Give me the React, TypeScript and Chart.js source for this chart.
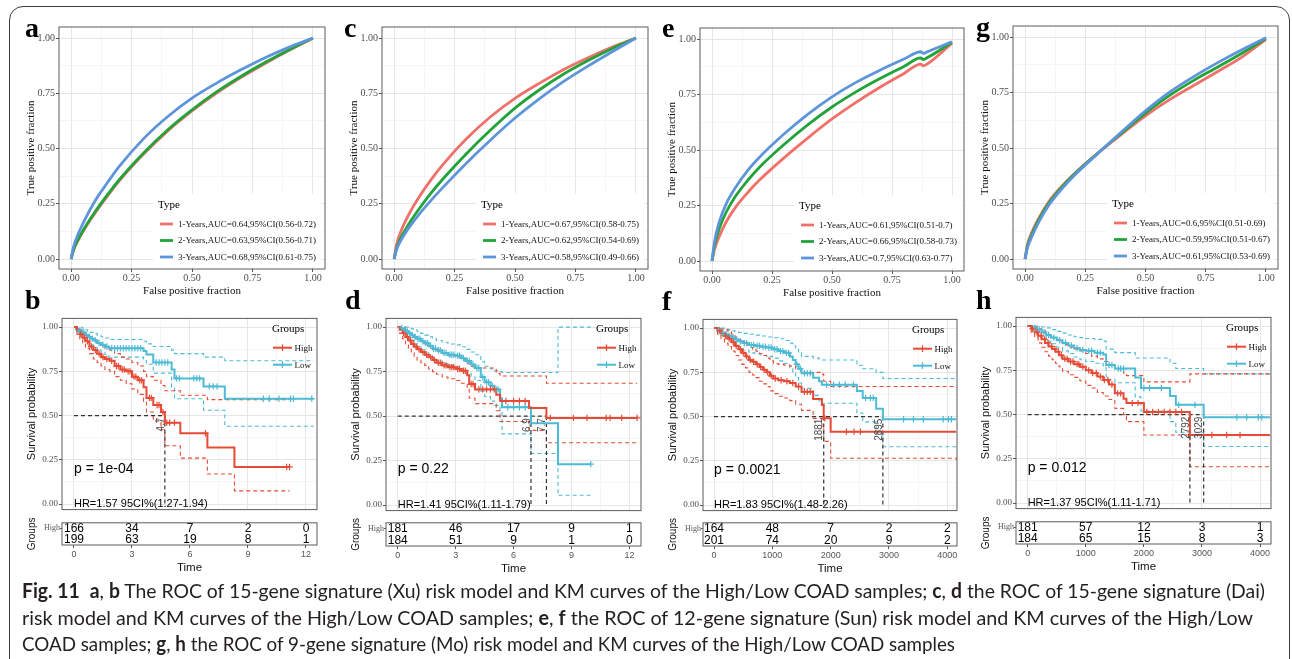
import React, { useEffect, useLayoutEffect, useRef } from 'react';
import { Chart, registerables } from 'chart.js';

Chart.register(...registerables);

const SERIF = '"Liberation Serif", "DejaVu Serif", serif';
const SANS = '"Liberation Sans", Arial, sans-serif';

// ---------------- ROC curves ----------------
const rocMajor = [0, 0.25, 0.5, 0.75, 1];
const rocMinor = [0.125, 0.375, 0.625, 0.875];
const rocYears = ['1-Years', '2-Years', '3-Years'];
const rocColors = ['#F0706A', '#22A33A', '#5E95DA'];

const fprStd = [0, 0.01, 0.03, 0.06, 0.1, 0.15, 0.2, 0.3, 0.4, 0.5, 0.6, 0.7, 0.8, 0.9, 1];

const tprA1 = [0, 0.04, 0.087, 0.144, 0.21, 0.285, 0.355, 0.475, 0.58, 0.67, 0.75, 0.82, 0.884, 0.944, 1];
const tprA2 = [0, 0.042, 0.09, 0.148, 0.215, 0.29, 0.36, 0.48, 0.585, 0.675, 0.755, 0.825, 0.888, 0.946, 1];
const tprA3 = [0, 0.055, 0.115, 0.185, 0.265, 0.345, 0.42, 0.545, 0.645, 0.728, 0.795, 0.855, 0.91, 0.958, 1];
const aucA = ['0.64', '0.63', '0.68'];
const ciA = ['0.56-0.72', '0.56-0.71', '0.61-0.75'];

const tprC1 = [0, 0.065, 0.13, 0.2, 0.275, 0.355, 0.425, 0.545, 0.645, 0.727, 0.795, 0.857, 0.91, 0.958, 1];
const tprC2 = [0, 0.048, 0.1, 0.157, 0.222, 0.295, 0.36, 0.478, 0.585, 0.683, 0.765, 0.836, 0.897, 0.952, 1];
const tprC3 = [0, 0.042, 0.088, 0.14, 0.198, 0.262, 0.322, 0.435, 0.54, 0.638, 0.725, 0.803, 0.872, 0.937, 1];
const aucC = ['0.67', '0.62', '0.58'];
const ciC = ['0.58-0.75', '0.54-0.69', '0.49-0.66'];

const fprE = [0, 0.01, 0.03, 0.06, 0.1, 0.15, 0.2, 0.3, 0.4, 0.5, 0.6, 0.7, 0.8, 0.87, 0.88, 0.9, 1];
const tprE1 = [0, 0.05, 0.11, 0.178, 0.245, 0.31, 0.367, 0.465, 0.555, 0.64, 0.715, 0.783, 0.845, 0.887, 0.88, 0.89, 0.982];
const tprE2 = [0, 0.068, 0.145, 0.222, 0.295, 0.365, 0.425, 0.525, 0.615, 0.694, 0.762, 0.822, 0.877, 0.915, 0.908, 0.918, 0.985];
const tprE3 = [0, 0.085, 0.175, 0.26, 0.335, 0.41, 0.47, 0.572, 0.662, 0.74, 0.805, 0.86, 0.91, 0.943, 0.936, 0.944, 0.988];
const aucE = ['0.61', '0.66', '0.7'];
const ciE = ['0.51-0.7', '0.58-0.73', '0.63-0.77'];

const tprG1 = [0, 0.065, 0.125, 0.19, 0.26, 0.325, 0.38, 0.475, 0.562, 0.645, 0.718, 0.782, 0.845, 0.91, 0.99];
const tprG2 = [0, 0.058, 0.115, 0.183, 0.253, 0.32, 0.377, 0.475, 0.567, 0.657, 0.737, 0.805, 0.865, 0.927, 0.993];
const tprG3 = [0, 0.05, 0.105, 0.173, 0.245, 0.313, 0.372, 0.473, 0.572, 0.668, 0.752, 0.822, 0.885, 0.943, 0.997];
const aucG = ['0.6', '0.59', '0.61'];
const ciG = ['0.51-0.69', '0.51-0.67', '0.53-0.69'];

// ---------------- Kaplan-Meier curves ----------------
const kmRed = '#E64B35';
const kmBlue = '#4DBBD5';
const survMajor = [0, 0.25, 0.5, 0.75, 1];
const survMinor = [0.125, 0.375, 0.625, 0.875];
const yearMajor = [0, 3, 6, 9, 12];
const yearMinor = [1.5, 4.5, 7.5, 10.5];
const dayMajor = [0, 1000, 2000, 3000, 4000];
const dayMinor = [500, 1500, 2500, 3500];

// b
const timeBH = [0, 0.15, 0.3, 0.45, 0.6, 0.8, 1.0, 1.2, 1.4, 1.6, 1.85, 2.1, 2.4, 2.7, 3.0, 3.3, 3.6, 3.75, 4.1, 4.5, 4.7, 5.5, 6.9, 8.3, 11.15];
const survBH = [1, 0.98, 0.96, 0.94, 0.92, 0.89, 0.87, 0.85, 0.83, 0.82, 0.81, 0.78, 0.76, 0.75, 0.72, 0.7, 0.66, 0.6, 0.56, 0.52, 0.46, 0.4, 0.32, 0.21, 0.21];
const upBH = [1, 0.995, 0.985, 0.97, 0.955, 0.935, 0.92, 0.905, 0.89, 0.88, 0.87, 0.85, 0.83, 0.82, 0.8, 0.78, 0.75, 0.72, 0.7, 0.67, 0.64, 0.615, 0.59, 0.59, 0.59];
const loBH = [1, 0.96, 0.93, 0.91, 0.88, 0.85, 0.82, 0.8, 0.78, 0.76, 0.75, 0.72, 0.7, 0.68, 0.65, 0.62, 0.58, 0.52, 0.47, 0.42, 0.33, 0.26, 0.17, 0.075, 0.075];
const censorBH = [0.35, 0.55, 0.7, 0.9, 1.1, 1.3, 1.5, 1.7, 1.95, 2.2, 2.3, 2.5, 2.6, 2.8, 2.9, 3.1, 3.2, 3.4, 3.5, 3.9, 4.0, 4.3, 4.4, 4.6, 4.8, 4.95, 5.2, 6.8, 11.0, 11.15];
const timeBL = [0, 0.1, 0.25, 0.4, 0.55, 0.7, 0.85, 1.0, 1.2, 1.4, 1.6, 1.8, 3.6, 3.75, 4.1, 5.05, 5.2, 6.7, 7.8, 12.4];
const survBL = [1, 0.99, 0.98, 0.97, 0.955, 0.945, 0.935, 0.925, 0.91, 0.9, 0.89, 0.88, 0.865, 0.845, 0.8, 0.76, 0.71, 0.665, 0.595, 0.595];
const upBL = [1, 1, 1, 0.995, 0.985, 0.978, 0.97, 0.963, 0.953, 0.945, 0.938, 0.93, 0.92, 0.905, 0.89, 0.87, 0.85, 0.83, 0.81, 0.81];
const loBL = [1, 0.975, 0.96, 0.945, 0.925, 0.91, 0.9, 0.885, 0.87, 0.855, 0.845, 0.83, 0.81, 0.79, 0.74, 0.66, 0.595, 0.53, 0.44, 0.44];
const censorBL = [0.3, 0.5, 0.65, 0.8, 0.95, 1.1, 1.3, 1.5, 1.7, 1.95, 2.1, 2.25, 2.4, 2.55, 2.7, 2.85, 3.0, 3.15, 3.3, 3.45, 4.25, 4.4, 4.55, 4.7, 4.85, 5.3, 5.45, 6.2, 6.35, 6.5, 7.0, 7.2, 7.4, 9.8, 10.1, 10.6, 11.2, 11.35, 12.3];
const riskTimesB = [0, 3, 6, 9, 12];
const riskHighB = [166, 34, 7, 2, 0];
const riskLowB = [199, 63, 19, 8, 1];
const mediansB = [4.7];

// d
const timeDH = [0, 0.1, 0.25, 0.4, 0.55, 0.7, 0.85, 1.0, 1.2, 1.4, 1.6, 1.8, 2.0, 2.3, 2.6, 3.0, 3.3, 3.6, 3.7, 4.0, 5.1, 5.3, 6.8, 7.7, 12.4];
const survDH = [1, 0.985, 0.965, 0.945, 0.925, 0.905, 0.89, 0.875, 0.86, 0.845, 0.83, 0.815, 0.8, 0.785, 0.775, 0.765, 0.755, 0.73, 0.68, 0.65, 0.62, 0.585, 0.545, 0.49, 0.49];
const upDH = [1, 1, 0.995, 0.985, 0.97, 0.955, 0.945, 0.935, 0.92, 0.905, 0.89, 0.875, 0.865, 0.85, 0.84, 0.83, 0.82, 0.8, 0.78, 0.77, 0.74, 0.725, 0.725, 0.685, 0.685];
const loDH = [1, 0.965, 0.935, 0.905, 0.88, 0.855, 0.835, 0.815, 0.8, 0.785, 0.765, 0.75, 0.735, 0.72, 0.71, 0.7, 0.685, 0.66, 0.6, 0.57, 0.53, 0.47, 0.42, 0.35, 0.35];
const censorDH = [0.3, 0.5, 0.65, 0.8, 0.95, 1.1, 1.3, 1.5, 1.7, 1.9, 2.1, 2.2, 2.4, 2.5, 2.7, 2.8, 2.9, 3.1, 3.2, 3.4, 3.5, 3.8, 3.9, 4.2, 4.4, 4.6, 4.8, 5.0, 5.6, 6.0, 6.3, 6.6, 7.9, 9.1, 9.8, 10.8, 11.0, 11.6, 12.4];
const timeDL = [0, 0.1, 0.25, 0.4, 0.55, 0.7, 0.85, 1.0, 1.2, 1.4, 1.6, 1.8, 2.0, 2.3, 2.6, 3.0, 3.3, 3.5, 3.8, 4.0, 4.3, 4.5, 4.8, 5.0, 5.3, 5.4, 6.9, 8.3, 10.0];
const survDL = [1, 0.995, 0.985, 0.975, 0.965, 0.955, 0.945, 0.935, 0.92, 0.91, 0.895, 0.88, 0.87, 0.855, 0.845, 0.84, 0.825, 0.81, 0.79, 0.77, 0.72, 0.69, 0.67, 0.65, 0.6, 0.55, 0.46, 0.23, 0.23];
const upDL = [1, 1, 1, 1, 0.995, 0.99, 0.985, 0.975, 0.965, 0.955, 0.945, 0.935, 0.925, 0.915, 0.905, 0.9, 0.89, 0.875, 0.86, 0.845, 0.805, 0.78, 0.765, 0.755, 0.75, 0.745, 0.745, 1, 1];
const loDL = [1, 0.985, 0.97, 0.955, 0.94, 0.925, 0.91, 0.895, 0.875, 0.86, 0.845, 0.825, 0.81, 0.795, 0.785, 0.775, 0.755, 0.74, 0.72, 0.7, 0.64, 0.61, 0.585, 0.56, 0.52, 0.4, 0.29, 0.055, 0.055];
const censorDL = [0.2, 0.35, 0.5, 0.6, 0.75, 0.9, 1.05, 1.15, 1.3, 1.45, 1.55, 1.7, 1.85, 1.95, 2.1, 2.2, 2.4, 2.5, 2.7, 2.8, 2.9, 3.1, 3.2, 3.4, 3.6, 3.7, 3.9, 4.1, 4.2, 4.4, 4.6, 4.7, 4.9, 5.1, 5.2, 5.7, 6.0, 6.3, 6.6, 10.0];
const riskTimesD = [0, 3, 6, 9, 12];
const riskHighD = [181, 46, 17, 9, 1];
const riskLowD = [184, 51, 9, 1, 0];
const mediansD = [6.9, 7.7];

// f (days)
const timeFH = [0, 60, 120, 180, 240, 300, 360, 420, 480, 540, 600, 660, 720, 780, 840, 900, 960, 1020, 1100, 1200, 1300, 1400, 1500, 1700, 1850, 1881, 2000, 4150];
const survFH = [1, 0.985, 0.97, 0.955, 0.94, 0.92, 0.9, 0.88, 0.86, 0.84, 0.82, 0.81, 0.795, 0.78, 0.765, 0.75, 0.73, 0.715, 0.705, 0.7, 0.69, 0.67, 0.64, 0.6, 0.565, 0.49, 0.415, 0.415];
const upFH = [1, 1, 0.995, 0.99, 0.98, 0.965, 0.95, 0.935, 0.92, 0.905, 0.89, 0.88, 0.87, 0.855, 0.845, 0.83, 0.815, 0.8, 0.795, 0.79, 0.785, 0.77, 0.75, 0.75, 0.74, 0.7, 0.67, 0.665];
const loFH = [1, 0.965, 0.94, 0.915, 0.895, 0.87, 0.845, 0.82, 0.795, 0.775, 0.75, 0.735, 0.72, 0.7, 0.685, 0.67, 0.645, 0.63, 0.615, 0.605, 0.59, 0.57, 0.535, 0.49, 0.44, 0.36, 0.265, 0.255];
const censorFH = [100, 200, 260, 330, 380, 450, 500, 560, 620, 680, 740, 800, 860, 920, 980, 1050, 1150, 1250, 1350, 1450, 1550, 1600, 1650, 1900, 2270, 2400, 2510];
const timeFL = [0, 60, 120, 180, 240, 300, 360, 420, 500, 600, 700, 800, 900, 1000, 1100, 1200, 1300, 1350, 1400, 1450, 1500, 1700, 1800, 1850, 2450, 2550, 2780, 2895, 4150];
const survFL = [1, 0.99, 0.975, 0.965, 0.955, 0.945, 0.935, 0.925, 0.915, 0.905, 0.9, 0.895, 0.89, 0.88, 0.87, 0.86, 0.84, 0.82, 0.795, 0.77, 0.745, 0.72, 0.7, 0.68, 0.645, 0.605, 0.545, 0.485, 0.485];
const upFL = [1, 1, 1, 0.995, 0.99, 0.985, 0.98, 0.975, 0.97, 0.965, 0.96, 0.955, 0.95, 0.945, 0.94, 0.93, 0.915, 0.9, 0.88, 0.86, 0.84, 0.83, 0.825, 0.82, 0.79, 0.77, 0.75, 0.715, 0.71];
const loFL = [1, 0.975, 0.96, 0.945, 0.93, 0.915, 0.9, 0.885, 0.875, 0.86, 0.855, 0.845, 0.84, 0.83, 0.815, 0.8, 0.775, 0.75, 0.72, 0.69, 0.66, 0.62, 0.59, 0.575, 0.52, 0.47, 0.4, 0.33, 0.32];
const censorFL = [90, 150, 210, 270, 330, 390, 450, 520, 560, 640, 680, 740, 780, 840, 880, 940, 980, 1040, 1080, 1140, 1180, 1240, 1280, 1420, 1480, 1550, 1600, 1650, 1930, 2050, 2150, 2250, 2390, 2600, 2680, 2730, 3250, 3420, 3590, 3930, 4020, 4070];
const riskTimesF = [0, 1000, 2000, 3000, 4000];
const riskHighF = [164, 48, 7, 2, 2];
const riskLowF = [201, 74, 20, 9, 2];
const mediansF = [1881, 2895];

// h (days)
const timeHH = [0, 60, 120, 180, 240, 300, 360, 420, 480, 540, 600, 700, 800, 900, 1000, 1100, 1200, 1300, 1400, 1500, 1650, 1700, 2000, 2792, 4170];
const survHH = [1, 0.985, 0.965, 0.945, 0.925, 0.905, 0.885, 0.87, 0.855, 0.835, 0.815, 0.8, 0.785, 0.77, 0.75, 0.735, 0.715, 0.695, 0.67, 0.62, 0.59, 0.565, 0.515, 0.385, 0.385];
const upHH = [1, 1, 0.995, 0.985, 0.975, 0.96, 0.945, 0.935, 0.925, 0.91, 0.895, 0.88, 0.87, 0.86, 0.845, 0.83, 0.815, 0.8, 0.78, 0.76, 0.735, 0.72, 0.685, 0.73, 0.73];
const loHH = [1, 0.965, 0.935, 0.905, 0.88, 0.855, 0.83, 0.81, 0.79, 0.77, 0.745, 0.725, 0.71, 0.69, 0.665, 0.65, 0.625, 0.605, 0.585, 0.535, 0.5, 0.46, 0.385, 0.205, 0.205];
const censorHH = [80, 160, 230, 290, 350, 410, 470, 530, 580, 640, 680, 740, 780, 850, 880, 950, 1050, 1120, 1180, 1250, 1320, 1380, 1450, 1550, 1600, 1800, 1900, 2050, 2150, 2250, 2350, 2450, 2550, 2650, 3170, 3425, 3655];
const timeHL = [0, 80, 160, 240, 320, 400, 500, 600, 700, 800, 900, 1000, 1150, 1300, 1350, 1500, 1850, 1950, 2450, 2550, 3029, 4170];
const survHL = [1, 0.99, 0.98, 0.965, 0.95, 0.935, 0.92, 0.905, 0.89, 0.875, 0.865, 0.86, 0.85, 0.84, 0.78, 0.76, 0.71, 0.65, 0.605, 0.555, 0.485, 0.485];
const upHL = [1, 1, 1, 0.995, 0.99, 0.98, 0.97, 0.96, 0.95, 0.94, 0.935, 0.93, 0.925, 0.915, 0.87, 0.85, 0.82, 0.82, 0.79, 0.76, 0.73, 0.725];
const loHL = [1, 0.975, 0.96, 0.94, 0.915, 0.9, 0.88, 0.86, 0.845, 0.825, 0.81, 0.8, 0.79, 0.775, 0.7, 0.68, 0.6, 0.52, 0.46, 0.4, 0.32, 0.32];
const censorHL = [120, 200, 280, 360, 450, 550, 650, 750, 850, 950, 1050, 1100, 1200, 1250, 1400, 1450, 1560, 1600, 1650, 2000, 2100, 2300, 2600, 2880, 3600, 3770, 3970, 4030];
const riskTimesH = [0, 1000, 2000, 3000, 4000];
const riskHighH = [181, 57, 12, 3, 1];
const riskLowH = [184, 65, 15, 8, 3];
const mediansH = [2792, 3029];

// ---------------- layout ----------------
type Box = { left: number; top: number; right: number; bottom: number };
type Margin = { left: number; top: number; right: number; bottom: number };

const ROC_M: Margin = { left: 41, top: 9, right: 6, bottom: 31 };
const KM_M: Margin = { left: 44, top: 6, right: 6, bottom: 2 };
const TAB_M: Margin = { left: 44, top: 4, right: 6, bottom: 33 };

const rocPanels = [
  { box: { left: 59, top: 27, right: 325, bottom: 269 }, fpr: fprStd, tpr: [tprA1, tprA2, tprA3], auc: aucA, ci: ciA },
  { box: { left: 382, top: 27, right: 648, bottom: 269 }, fpr: fprStd, tpr: [tprC1, tprC2, tprC3], auc: aucC, ci: ciC },
  { box: { left: 700, top: 28, right: 964, bottom: 271 }, fpr: fprE, tpr: [tprE1, tprE2, tprE3], auc: aucE, ci: ciE },
  { box: { left: 1013, top: 26, right: 1278, bottom: 269 }, fpr: fprStd, tpr: [tprG1, tprG2, tprG3], auc: aucG, ci: ciG },
];

const kmPanels = [
  {
    box: { left: 62, top: 318, right: 317, bottom: 514 }, table: { left: 62, top: 522, right: 317, bottom: 545 },
    xMin: -0.62, xMax: 12.57, major: yearMajor, minor: yearMinor,
    high: { time: timeBH, surv: survBH, upper: upBH, lower: loBH, censor: censorBH },
    low: { time: timeBL, surv: survBL, upper: upBL, lower: loBL, censor: censorBL },
    riskTimes: riskTimesB, riskHigh: riskHighB, riskLow: riskLowB, medians: mediansB,
    pText: 'p = 1e-04', hrText: 'HR=1.57 95CI%(1.27-1.94)',
  },
  {
    box: { left: 386, top: 318, right: 641, bottom: 515 }, table: { left: 386, top: 522, right: 641, bottom: 546 },
    xMin: -0.61, xMax: 12.6, major: yearMajor, minor: yearMinor,
    high: { time: timeDH, surv: survDH, upper: upDH, lower: loDH, censor: censorDH },
    low: { time: timeDL, surv: survDL, upper: upDL, lower: loDL, censor: censorDL },
    riskTimes: riskTimesD, riskHigh: riskHighD, riskLow: riskLowD, medians: mediansD,
    pText: 'p = 0.22', hrText: 'HR=1.41 95CI%(1.11-1.79)',
  },
  {
    box: { left: 703, top: 319, right: 957, bottom: 515 }, table: { left: 703, top: 522, right: 957, bottom: 546 },
    xMin: -189, xMax: 4166, major: dayMajor, minor: dayMinor,
    high: { time: timeFH, surv: survFH, upper: upFH, lower: loFH, censor: censorFH },
    low: { time: timeFL, surv: survFL, upper: upFL, lower: loFL, censor: censorFL },
    riskTimes: riskTimesF, riskHigh: riskHighF, riskLow: riskLowF, medians: mediansF,
    pText: 'p = 0.0021', hrText: 'HR=1.83 95CI%(1.48-2.26)',
  },
  {
    box: { left: 1016, top: 317, right: 1271, bottom: 513 }, table: { left: 1016, top: 521, right: 1271, bottom: 544 },
    xMin: -201, xMax: 4188, major: dayMajor, minor: dayMinor,
    high: { time: timeHH, surv: survHH, upper: upHH, lower: loHH, censor: censorHH },
    low: { time: timeHL, surv: survHL, upper: upHL, lower: loHL, censor: censorHL },
    riskTimes: riskTimesH, riskHigh: riskHighH, riskLow: riskLowH, medians: mediansH,
    pText: 'p = 0.012', hrText: 'HR=1.37 95CI%(1.11-1.71)',
  },
];

const panelLetters = [
  { t: 'a', x: 25, base: 37 }, { t: 'c', x: 344, base: 37 }, { t: 'e', x: 662, base: 37 }, { t: 'g', x: 976, base: 36 },
  { t: 'b', x: 25, base: 309 }, { t: 'd', x: 345, base: 309 }, { t: 'f', x: 662, base: 310 }, { t: 'h', x: 976, base: 309 },
];

function rectFor(box: Box, m: Margin) {
  return {
    left: box.left - m.left,
    top: box.top - m.top,
    width: box.right - box.left + m.left + m.right,
    height: box.bottom - box.top + m.top + m.bottom,
  };
}

const canvasRects = [
  ...rocPanels.map((p) => rectFor(p.box, ROC_M)),
  ...kmPanels.flatMap((p) => [rectFor(p.box, KM_M), rectFor(p.table, TAB_M)]),
];

// ---------------- helpers ----------------
function survAt(times: number[], surv: number[], t: number) {
  let s = surv[0];
  for (let i = 0; i < times.length; i++) {
    if (times[i] <= t) s = surv[i];
    else break;
  }
  return s;
}

const panelBorder = {
  id: 'panelBorder',
  afterDraw(chart: any) {
    const { ctx, chartArea: a } = chart;
    ctx.save();
    ctx.strokeStyle = '#5c5c5c';
    ctx.lineWidth = 1;
    ctx.strokeRect(a.left, a.top, a.right - a.left, a.bottom - a.top);
    ctx.restore();
  },
};

function gridAxis(p: any) {
  const isMajor = (v: number) => p.major.includes(v);
  const showLabels = !!p.fmt;
  return {
    type: 'linear',
    min: p.min,
    max: p.max,
    afterBuildTicks: (s: any) => {
      s.ticks = [...p.major, ...p.minor].sort((a: number, b: number) => a - b).map((v: number) => ({ value: v }));
    },
    afterFit: (s: any) => {
      if (p.vertical) s.width = p.size;
      else s.height = p.size;
    },
    border: { display: false },
    grid: {
      color: (c: any) => (c.tick && isMajor(c.tick.value) ? '#E6E6E6' : '#F2F2F2'),
      lineWidth: (c: any) => (c.tick && isMajor(c.tick.value) ? 1 : 0.7),
      drawTicks: showLabels,
      tickLength: 3,
      tickWidth: 1,
      tickColor: (c: any) => (c.tick && isMajor(c.tick.value) ? '#555' : 'rgba(0,0,0,0)'),
    },
    ticks: {
      display: showLabels,
      autoSkip: false,
      maxRotation: 0,
      minRotation: 0,
      padding: p.tickPadding ?? 1,
      color: '#4D4D4D',
      font: { family: SERIF, size: p.fontSize ?? 10 },
      callback: (v: any) => (showLabels && isMajor(Number(v)) ? p.fmt(Number(v)) : ''),
    },
    title: p.title
      ? { display: true, text: p.title, color: '#111', font: p.titleFont, padding: p.titlePadding }
      : { display: false },
  };
}

const rocLegend = {
  id: 'rocLegend',
  afterDatasetsDraw(chart: any) {
    const { ctx, chartArea: a } = chart;
    const x0 = a.left + 99;
    const y0 = a.top + 178;
    const labels = chart.data.datasets.map((d: any) => d.label);
    ctx.save();
    ctx.font = `9px ${SERIF}`;
    const w = Math.max(...labels.map((l: string) => ctx.measureText(l).width));
    ctx.fillStyle = '#fff';
    ctx.fillRect(x0 - 5, y0 - 11, w + 30, 73);
    ctx.fillStyle = '#000';
    ctx.textBaseline = 'middle';
    ctx.font = `11px ${SERIF}`;
    ctx.fillText('Type', x0, y0);
    ctx.font = `9px ${SERIF}`;
    chart.data.datasets.forEach((d: any, i: number) => {
      const yy = y0 + 19 + i * 16.5;
      ctx.strokeStyle = d.borderColor;
      ctx.lineWidth = 2.8;
      ctx.beginPath();
      ctx.moveTo(x0 + 2, yy);
      ctx.lineTo(x0 + 15, yy);
      ctx.stroke();
      ctx.fillStyle = '#111';
      ctx.fillText(d.label, x0 + 20, yy + 0.5);
    });
    ctx.restore();
  },
};

function buildRoc(canvas: HTMLCanvasElement, p: any) {
  const datasets = p.tpr.map((tpr: number[], i: number) => ({
    label: `${rocYears[i]},AUC=${p.auc[i]},95%CI(${p.ci[i]})`,
    data: p.fpr.map((x: number, j: number) => ({ x, y: tpr[j] })),
    borderColor: rocColors[i],
    backgroundColor: rocColors[i],
    borderWidth: 2.8,
    pointRadius: 0,
    cubicInterpolationMode: 'monotone',
    fill: false,
    order: 3 - i,
  }));
  const fmt = (v: number) => v.toFixed(2);
  return new Chart(canvas, {
    type: 'line',
    data: { datasets },
    options: {
      responsive: false,
      animation: false,
      devicePixelRatio: 1,
      events: [],
      layout: { padding: { left: 0, top: ROC_M.top, right: ROC_M.right, bottom: 0 } },
      plugins: { legend: { display: false }, tooltip: { enabled: false } },
      scales: {
        x: gridAxis({
          min: -0.05, max: 1.05, major: rocMajor, minor: rocMinor, fmt, vertical: false, size: ROC_M.bottom,
          tickPadding: 0, fontSize: 10,
          title: 'False positive fraction', titleFont: { family: SERIF, size: 11 }, titlePadding: { top: 0, bottom: 2.4 },
        }),
        y: gridAxis({
          min: -0.045, max: 1.05, major: rocMajor, minor: rocMinor, fmt, vertical: true, size: ROC_M.left,
          tickPadding: 1, fontSize: 10,
          title: 'True positive fraction', titleFont: { family: SERIF, size: 11 }, titlePadding: { top: 7, bottom: 0 },
        }),
      },
    },
    plugins: [panelBorder, rocLegend],
  } as any);
}

function kmOverlay(p: any) {
  return {
    id: 'kmOverlay',
    afterDatasetsDraw(chart: any) {
      const { ctx, chartArea: a, scales } = chart;
      const x = scales.x;
      const y = scales.y;
      ctx.save();
      ctx.textBaseline = 'middle';
      ctx.textAlign = 'left';
      ctx.fillStyle = '#000';
      ctx.font = `14px ${SANS}`;
      ctx.fillText(p.pText, x.getPixelForValue(0), y.getPixelForValue(0.2));
      ctx.font = `11px ${SANS}`;
      ctx.fillText(p.hrText, x.getPixelForValue(0), y.getPixelForValue(0));

      // median survival times
      ctx.fillStyle = '#4a4a4a';
      ctx.font = `10px ${SANS}`;
      p.medians.forEach((m: number) => {
        ctx.save();
        ctx.translate(x.getPixelForValue(m) - 4, y.getPixelForValue(0.5) + 2);
        ctx.rotate(-Math.PI / 2);
        ctx.textAlign = 'right';
        ctx.fillText(String(m), 0, 0);
        ctx.restore();
      });

      // legend
      const groups = [
        { name: 'High', color: kmRed },
        { name: 'Low', color: kmBlue },
      ];
      ctx.fillStyle = '#000';
      ctx.font = `11px ${SERIF}`;
      ctx.fillText('Groups', a.right - 45, a.top + 10.5);
      groups.forEach((g, i) => {
        const yy = a.top + 29.3 + i * 17;
        ctx.strokeStyle = g.color;
        ctx.lineWidth = 2;
        ctx.beginPath();
        ctx.moveTo(a.right - 44, yy);
        ctx.lineTo(a.right - 25, yy);
        ctx.stroke();
        ctx.lineWidth = 1.3;
        ctx.beginPath();
        ctx.moveTo(a.right - 34.5, yy - 3.3);
        ctx.lineTo(a.right - 34.5, yy + 3.3);
        ctx.stroke();
        ctx.fillStyle = '#111';
        ctx.font = `9px ${SERIF}`;
        ctx.fillText(g.name, a.right - 22.5, yy + 0.5);
      });
      ctx.restore();
    },
  };
}

function buildKm(canvas: HTMLCanvasElement, p: any) {
  const pts = (times: number[], vals: number[]) => times.map((t, i) => ({ x: t, y: vals[i] }));
  const datasets: any[] = [];
  [
    { g: p.high, color: kmRed },
    { g: p.low, color: kmBlue },
  ].forEach(({ g, color }) => {
    const dashed = { borderColor: color, borderWidth: 1.1, borderDash: [4, 3], stepped: 'before', pointRadius: 0, fill: false, order: 4 };
    datasets.push({ ...dashed, data: pts(g.time, g.upper) });
    datasets.push({ ...dashed, data: pts(g.time, g.lower) });
    datasets.push({ data: pts(g.time, g.surv), borderColor: color, borderWidth: 2, stepped: 'before', pointRadius: 0, fill: false, order: 2 });
    datasets.push({
      data: g.censor.map((t: number) => ({ x: t, y: survAt(g.time, g.surv, t) })),
      showLine: false,
      pointStyle: 'cross',
      pointRadius: 3.2,
      pointBorderColor: color,
      pointBackgroundColor: color,
      pointBorderWidth: 1.2,
      order: 1,
    });
  });
  const medLine = { borderColor: '#333', borderWidth: 1.2, borderDash: [4, 3], pointRadius: 0, fill: false, order: 3 };
  const maxMed = Math.max(...p.medians);
  datasets.push({ ...medLine, data: [{ x: 0, y: 0.5 }, { x: maxMed, y: 0.5 }] });
  p.medians.forEach((m: number) => datasets.push({ ...medLine, data: [{ x: m, y: 0.5 }, { x: m, y: 0 }] }));

  return new Chart(canvas, {
    type: 'line',
    data: { datasets },
    options: {
      responsive: false,
      animation: false,
      devicePixelRatio: 1,
      events: [],
      layout: { padding: { left: 0, top: KM_M.top, right: KM_M.right, bottom: 0 } },
      plugins: { legend: { display: false }, tooltip: { enabled: false } },
      scales: {
        x: gridAxis({ min: p.xMin, max: p.xMax, major: p.major, minor: p.minor, fmt: null, vertical: false, size: KM_M.bottom }),
        y: gridAxis({
          min: -0.031, max: 1.049, major: survMajor, minor: survMinor, fmt: (v: number) => v.toFixed(2),
          vertical: true, size: KM_M.left, tickPadding: 1, fontSize: 9,
          title: 'Survival probability', titleFont: { family: SANS, size: 11 }, titlePadding: { top: 7.4, bottom: 0 },
        }),
      },
    },
    plugins: [panelBorder, kmOverlay(p)],
  } as any);
}

function riskNumbers(rows: number[][]) {
  return {
    id: 'riskNumbers',
    afterDatasetsDraw(chart: any) {
      const { ctx } = chart;
      ctx.save();
      ctx.fillStyle = '#000';
      ctx.font = `12px ${SANS}`;
      ctx.textAlign = 'center';
      ctx.textBaseline = 'middle';
      rows.forEach((vals, di) => {
        const meta = chart.getDatasetMeta(di);
        meta.data.forEach((el: any, i: number) => ctx.fillText(String(vals[i]), el.x, el.y + 0.5));
      });
      ctx.restore();
    },
  };
}

function buildTable(canvas: HTMLCanvasElement, p: any) {
  return new Chart(canvas, {
    type: 'scatter',
    data: {
      datasets: [
        { data: p.riskTimes.map((t: number) => ({ x: t, y: 'High' })), pointRadius: 0 },
        { data: p.riskTimes.map((t: number) => ({ x: t, y: 'Low' })), pointRadius: 0 },
      ],
    },
    options: {
      responsive: false,
      animation: false,
      devicePixelRatio: 1,
      events: [],
      layout: { padding: { left: 0, top: TAB_M.top, right: TAB_M.right, bottom: 0 } },
      plugins: { legend: { display: false }, tooltip: { enabled: false } },
      scales: {
        x: {
          type: 'linear',
          min: p.xMin,
          max: p.xMax,
          afterBuildTicks: (s: any) => {
            s.ticks = p.riskTimes.map((v: number) => ({ value: v }));
          },
          afterFit: (s: any) => {
            s.height = TAB_M.bottom;
          },
          border: { display: false },
          grid: { drawOnChartArea: false, drawTicks: true, tickLength: 3, tickColor: '#555' },
          ticks: {
            autoSkip: false, maxRotation: 0, padding: 1.1, color: '#555', font: { family: SANS, size: 9 },
            callback: (v: any) => String(v),
          },
          title: { display: true, text: 'Time', color: '#111', font: { family: SANS, size: 11.5 }, padding: { top: 0, bottom: 3.6 } },
        },
        y: {
          type: 'category',
          labels: ['High', 'Low'],
          offset: true,
          afterFit: (s: any) => {
            s.width = TAB_M.left;
          },
          border: { display: false },
          grid: { drawOnChartArea: false, offset: false, drawTicks: true, tickLength: 2, tickColor: '#555' },
          ticks: { padding: 0, color: '#555', font: { family: SERIF, size: 8 } },
          title: { display: true, text: 'Groups', color: '#111', font: { family: SANS, size: 10 }, padding: { top: 8, bottom: 0 } },
        },
      },
    },
    plugins: [panelBorder, riskNumbers([p.riskHigh, p.riskLow])],
  } as any);
}

const captionTargets = [1243, 1231, 933];

export default function App() {
  const canvasRefs = useRef<(HTMLCanvasElement | null)[]>([]);
  const lineRefs = useRef<(HTMLSpanElement | null)[]>([]);

  useEffect(() => {
    const charts: Chart[] = [];
    rocPanels.forEach((p, i) => charts.push(buildRoc(canvasRefs.current[i]!, p)));
    kmPanels.forEach((p, i) => {
      charts.push(buildKm(canvasRefs.current[4 + i * 2]!, p));
      charts.push(buildTable(canvasRefs.current[5 + i * 2]!, p));
    });
    return () => charts.forEach((c) => c.destroy());
  }, []);

  useLayoutEffect(() => {
    const fit = () => {
      lineRefs.current.forEach((el, i) => {
        if (!el) return;
        el.style.transform = 'none';
        const w = el.getBoundingClientRect().width;
        if (w > 0) el.style.transform = `scaleX(${captionTargets[i] / w})`;
      });
    };
    fit();
    const fonts = (document as any).fonts;
    if (fonts && fonts.ready) fonts.ready.then(fit);
  }, []);

  const lineStyle: React.CSSProperties = { display: 'inline-block', transformOrigin: '0 50%', whiteSpace: 'nowrap' };

  return (
    <div style={{ position: 'absolute', left: 0, top: 0, width: 1292, height: 659, overflow: 'hidden', background: '#fff' }}>
      <div
        style={{
          position: 'absolute', left: 9, top: 6, width: 1281, height: 720,
          border: '1.5px solid #3c3c3c', borderRadius: 14, boxSizing: 'border-box',
        }}
      />
      {canvasRects.map((r, i) => (
        <canvas
          key={i}
          ref={(el) => { canvasRefs.current[i] = el; }}
          width={r.width}
          height={r.height}
          style={{ position: 'absolute', left: r.left, top: r.top, width: r.width, height: r.height }}
        />
      ))}
      {panelLetters.map((l) => (
        <div
          key={l.t}
          style={{
            position: 'absolute', left: l.x, top: l.base - 23.5, fontFamily: SERIF, fontWeight: 'bold',
            fontSize: 28, lineHeight: '28px', color: '#000',
          }}
        >
          {l.t}
        </div>
      ))}
      <div style={{ position: 'absolute', left: 22, top: 577, fontFamily: 'Lato, "Noto Sans", sans-serif', fontSize: 20, lineHeight: '26.5px', color: '#231F20' }}>
        <div>
          <span ref={(el) => { lineRefs.current[0] = el; }} style={lineStyle}>
            <b>Fig. 11</b>&nbsp; <b>a</b>, <b>b</b> The ROC of 15-gene signature (Xu) risk model and KM curves of the High/Low COAD samples; <b>c</b>, <b>d</b> the ROC of 15-gene signature (Dai)
          </span>
        </div>
        <div>
          <span ref={(el) => { lineRefs.current[1] = el; }} style={lineStyle}>
            risk model and KM curves of the High/Low COAD samples; <b>e</b>, <b>f</b> the ROC of 12-gene signature (Sun) risk model and KM curves of the High/Low
          </span>
        </div>
        <div>
          <span ref={(el) => { lineRefs.current[2] = el; }} style={lineStyle}>
            COAD samples; <b>g</b>, <b>h</b> the ROC of 9-gene signature (Mo) risk model and KM curves of the High/Low COAD samples
          </span>
        </div>
      </div>
    </div>
  );
}
